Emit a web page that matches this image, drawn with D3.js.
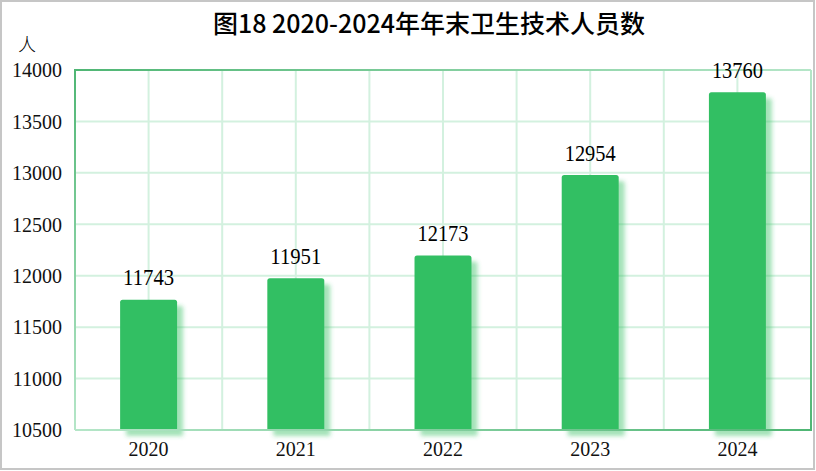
<!DOCTYPE html>
<html><head><meta charset="utf-8">
<script src="https://cdn.jsdelivr.net/npm/d3@7"></script>
<style>body{margin:0;background:#fff}svg{display:block}</style>
</head><body>
<svg id="c" width="816" height="471"></svg>
<script>
const years = ["2020","2021","2022","2023","2024"];
const values = [11743, 11951, 12173, 12954, 13760];
const yTicks = [10500, 11000, 11500, 12000, 12500, 13000, 13500, 14000];
const title = "图18 2020-2024年年末卫生技术人员数";
const unit = "人";

const svg = d3.select("#c");
const L = 75, R = 811, T = 70, B = 430;
const x = d3.scaleBand().domain(years).range([L, R]).paddingInner(0.613).paddingOuter(0.3065);
const y = d3.scaleLinear().domain([10500, 14000]).range([B, T]);
const step = (R - L) / years.length;

const defs = svg.append("defs");
const f = defs.append("filter").attr("id","sh").attr("x","-30%").attr("y","-30%").attr("width","160%").attr("height","160%");
f.append("feDropShadow").attr("dx",6).attr("dy",6).attr("stdDeviation",2).attr("flood-color","#33bf63").attr("flood-opacity",0.45);
function grad(id, x1,y1,x2,y2,c1,c2){
  const g = defs.append("linearGradient").attr("id",id).attr("gradientUnits","userSpaceOnUse")
    .attr("x1",x1).attr("y1",y1).attr("x2",x2).attr("y2",y2);
  g.append("stop").attr("offset","0%").attr("stop-color",c1);
  g.append("stop").attr("offset","100%").attr("stop-color",c2);
}
const dark="#4fb674", light="#b5e6c8";
grad("gt", L,T,R,T, dark, light);
grad("gl", L,T,L,B, dark, light);
grad("gr", R,T,R,B, light, dark);
grad("gb", L,B,R,B, light, dark);

// outer gray frame
svg.append("rect").attr("x",1).attr("y",1).attr("width",813).attr("height",468)
  .attr("fill","none").attr("stroke","#c6c6c6").attr("stroke-width",2);

// gridlines
const g = svg.append("g");
g.selectAll(".hg").data(yTicks).join("line")
  .attr("x1",L).attr("x2",R).attr("y1",d=>y(d)).attr("y2",d=>y(d))
  .attr("stroke","#d3f1df").attr("stroke-width",2);
const vx = d3.range(1, years.length*2).map(i => L + i*step/2);
g.selectAll(".vg").data(vx).join("line")
  .attr("x1",d=>d).attr("x2",d=>d).attr("y1",T).attr("y2",B)
  .attr("stroke","#d3f1df").attr("stroke-width",2);

// bars
svg.append("g").selectAll("path").data(values).join("path")
  .attr("filter","url(#sh)")
  .attr("fill","#33bf63")
  .attr("d",(d,i)=>{
    const x0=x(years[i]), w=x.bandwidth(), y0=y(d)-2.5, r=2.5;
    return `M${x0},${B}V${y0+r}Q${x0},${y0} ${x0+r},${y0}H${x0+w-r}Q${x0+w},${y0} ${x0+w},${y0+r}V${B}Z`;
  });

// plot border
svg.append("line").attr("x1",L).attr("x2",R).attr("y1",T).attr("y2",T).attr("stroke","url(#gt)").attr("stroke-width",2);
svg.append("line").attr("x1",L).attr("x2",L).attr("y1",T-1).attr("y2",B).attr("stroke","url(#gl)").attr("stroke-width",2);
svg.append("line").attr("x1",R).attr("x2",R).attr("y1",T).attr("y2",B+1).attr("stroke","url(#gr)").attr("stroke-width",2);
svg.append("line").attr("x1",L).attr("x2",R).attr("y1",B).attr("y2",B).attr("stroke","url(#gb)").attr("stroke-width",2);

// value labels
svg.append("g").selectAll("text").data(values).join("text")
  .attr("x",(d,i)=>x(years[i])+x.bandwidth()/2)
  .attr("y",d=>y(d)-17)
  .attr("text-anchor","middle")
  .attr("font-family","'Liberation Serif', serif")
  .attr("font-size",24)
  .attr("textLength",51).attr("lengthAdjust","spacingAndGlyphs")
  .attr("fill","#000")
  .text(d=>d);

// y axis
const ya = svg.append("g").attr("transform",`translate(${L},0)`)
  .call(d3.axisLeft(y).tickValues(yTicks).tickSize(0).tickPadding(13).tickFormat(d3.format("d")));
ya.select(".domain").remove();
ya.selectAll("text").attr("font-family","'Liberation Serif', serif").attr("font-size",20).attr("fill","#111").attr("dy","0.34em");

// x axis
const xa = svg.append("g").attr("transform",`translate(0,${B})`)
  .call(d3.axisBottom(x).tickSize(0).tickPadding(12));
xa.select(".domain").remove();
xa.selectAll("text").attr("font-family","'Liberation Serif', serif").attr("font-size",20).attr("fill","#111");

// title
svg.append("text").attr("x",429).attr("y",33).attr("text-anchor","middle")
  .attr("font-family","'Noto Sans CJK SC', sans-serif").attr("font-size",25).attr("font-weight",500)
  .attr("textLength",432).attr("lengthAdjust","spacingAndGlyphs")
  .attr("fill","#000").text(title);

svg.append("text").attr("x",27).attr("y",51).attr("text-anchor","middle")
  .attr("font-family","'Noto Sans CJK SC', sans-serif").attr("font-size",18).attr("font-weight",300)
  .attr("fill","#000").text(unit);
</script>
</body></html>
